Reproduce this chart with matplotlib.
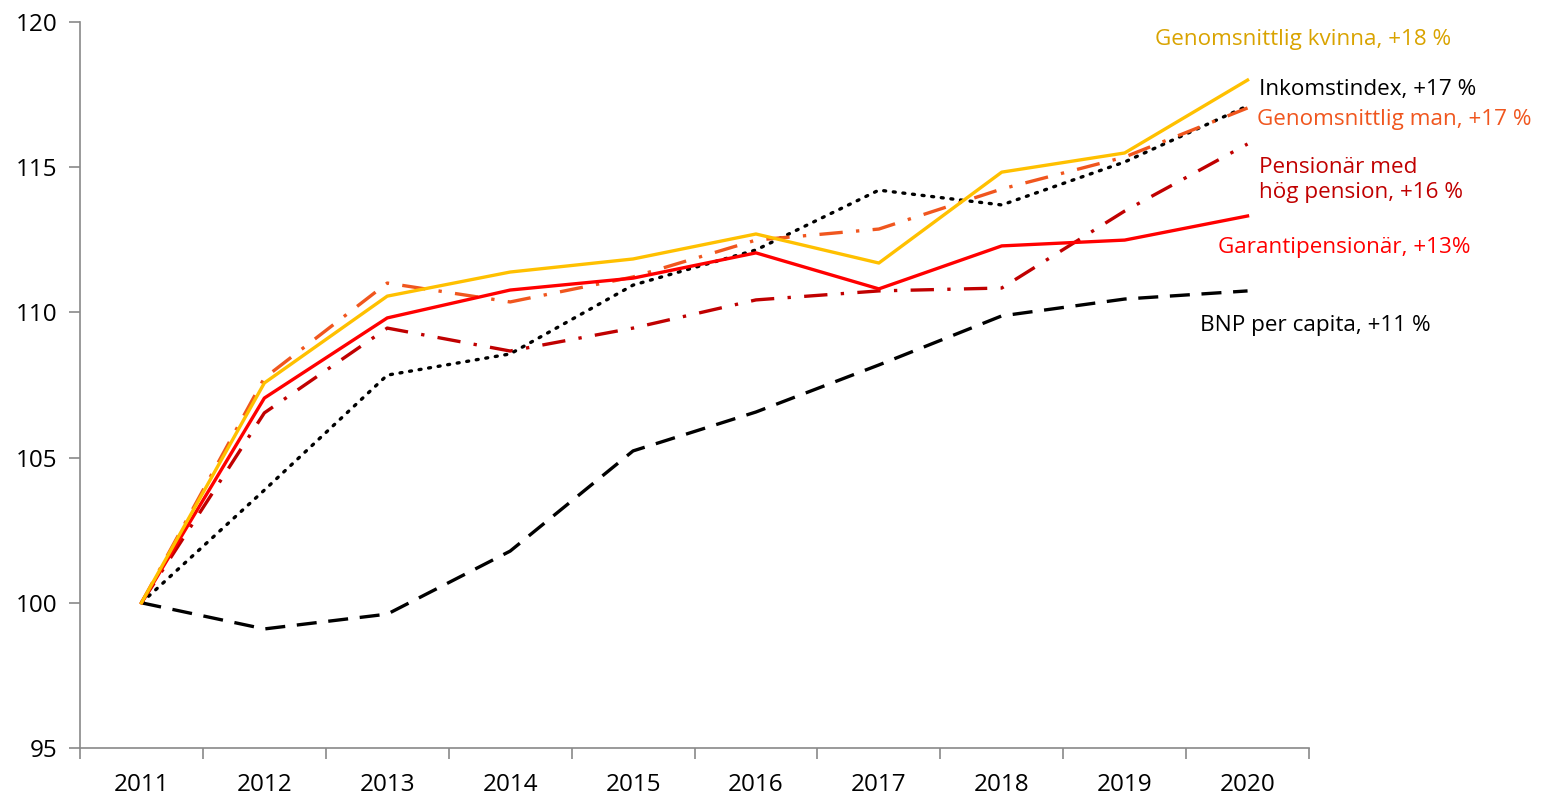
import matplotlib.pyplot as plt
import numpy as np

plt.rcParams['font.family'] = ['Open Sans', 'DejaVu Sans']

years = ['2011', '2012', '2013', '2014', '2015', '2016', '2017', '2018', '2019', '2020']

kvinna = [100, 107.57, 110.56, 111.39, 111.84, 112.70, 111.70, 114.83, 115.49, 118.0]
inkomstindex = [100, 103.88, 107.84, 108.57, 110.94, 112.15, 114.21, 113.70, 115.18, 117.11]
man = [100, 107.74, 111.01, 110.36, 111.22, 112.49, 112.87, 114.25, 115.35, 117.04]
hog_pension = [100, 106.54, 109.46, 108.67, 109.46, 110.43, 110.74, 110.84, 113.49, 115.80]
garanti = [100, 107.05, 109.81, 110.77, 111.18, 112.05, 110.81, 112.29, 112.49, 113.32]
bnp = [100, 99.10, 99.61, 101.78, 105.23, 106.57, 108.19, 109.88, 110.46, 110.74]

W, H = 1542, 799
fig = plt.figure(figsize=(W / 100, H / 100), dpi=100)
ax = fig.add_axes([80 / W, 1 - 748 / H, (1309 - 80) / W, (748 - 22) / H])

x = np.arange(len(years))
lw = 2.4
ax.plot(x, bnp, color='black', lw=lw, ls=(0, (6, 3.5)))
ax.plot(x, hog_pension, color='#C00000', lw=lw, ls=(0, (7, 4, 1, 4)))
ax.plot(x, inkomstindex, color='black', lw=lw, ls=(0, (0.6, 2.3)), dash_capstyle='round')
ax.plot(x, man, color='#F0561E', lw=lw, ls=(0, (7, 4, 1, 4)))
ax.plot(x, garanti, color='#FF0000', lw=lw)
ax.plot(x, kvinna, color='#FFC000', lw=lw)

ax.set_xlim(-0.5, len(years) - 0.5)
ax.set_ylim(95, 120)
ax.set_yticks(range(95, 121, 5))
ax.set_xticks(x)
ax.set_xticklabels(years)
ax.set_xticks(np.arange(-0.5, len(years)), minor=True)
ax.tick_params(axis='x', which='major', length=0, pad=18, labelsize=17.5)
ax.tick_params(axis='x', which='minor', length=8, color='#898989', width=1.2)
ax.tick_params(axis='y', length=8, color='#898989', width=1.2, pad=8, labelsize=17.5)

for side in ['top', 'right']:
    ax.spines[side].set_visible(False)
for side in ['left', 'bottom']:
    ax.spines[side].set_color('#898989')
    ax.spines[side].set_linewidth(1.2)

labels = [
    (1155, 39, 'Genomsnittlig kvinna, +18 %', '#D9A300'),
    (1259, 89, 'Inkomstindex, +17 %', 'black'),
    (1257, 119, 'Genomsnittlig man, +17 %', '#F0561E'),
    (1259, 180, 'Pensionär med\nhög pension, +16 %', '#C00000'),
    (1218, 247, 'Garantipensionär, +13%', '#FF0000'),
    (1200, 326, 'BNP per capita, +11 %', 'black'),
]
for px, py, txt, col in labels:
    fig.text(px / W, 1 - py / H, txt, color=col, fontsize=16.2,
             ha='left', va='center', linespacing=1.3)

fig.savefig('out.png', dpi=100)
